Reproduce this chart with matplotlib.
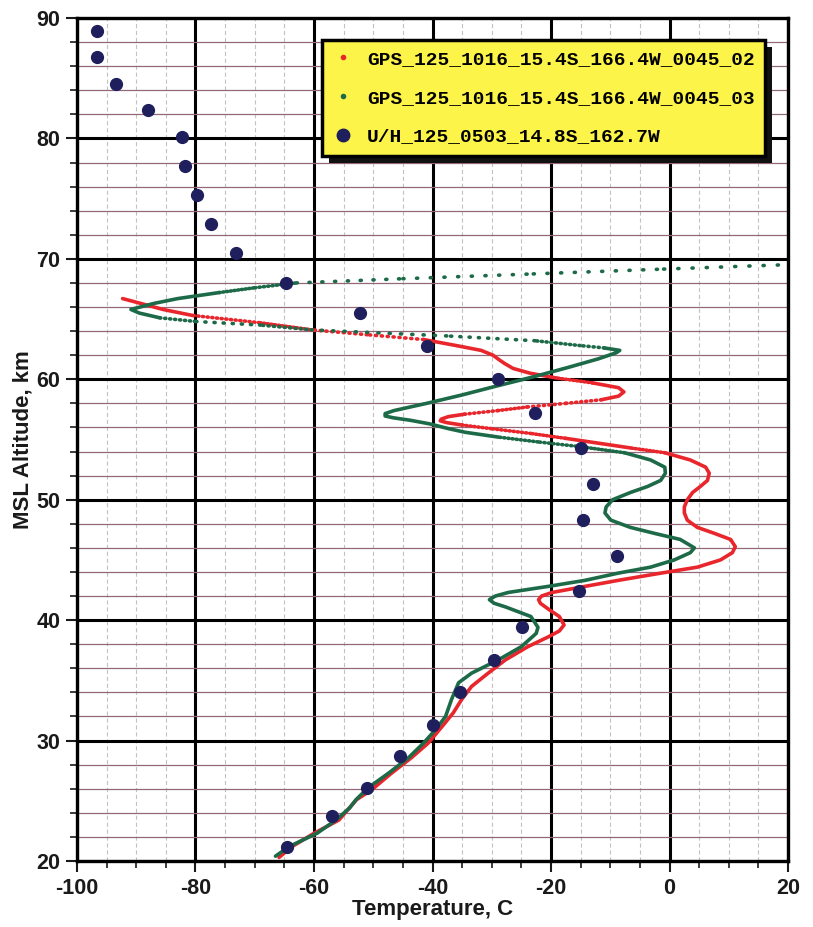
import matplotlib
matplotlib.use('Agg')
import matplotlib.pyplot as plt
from matplotlib.lines import Line2D
from matplotlib.patches import Rectangle
from matplotlib.transforms import IdentityTransform

# U/H radiosonde points
uh_temp = [-96.6, -96.6, -93.4, -88.1, -82.2, -81.8, -79.8, -77.3, -73.1, -64.7,
           -52.3, -41.0, -28.9, -22.7, -14.9, -12.9, -14.6, -8.9, -15.3, -24.9,
           -29.6, -35.3, -40.0, -45.5, -51.1, -56.9, -64.5]
uh_alt = [88.9, 86.8, 84.5, 82.4, 80.1, 77.7, 75.3, 72.9, 70.5, 68.0,
          65.5, 62.8, 60.0, 57.2, 54.3, 51.3, 48.3, 45.3, 42.4, 39.4,
          36.7, 34.0, 31.3, 28.7, 26.1, 23.7, 21.2]

# GPS profile 0045_02
gps02_alt = [20.3, 21.2, 22.3, 23.4, 25.1, 25.9, 27.3, 28.6, 29.8, 31.1,
             32.3, 33.4, 34.5, 35.6, 36.7, 37.8, 38.6, 39.1, 39.6, 40.3,
             40.9, 41.4, 41.7, 42.0, 42.3, 42.8, 43.3, 43.9, 44.4, 45.0,
             45.6, 46.1, 46.7, 47.2, 47.7, 48.3, 48.9, 49.4, 50.0, 50.6,
             51.1, 51.6, 52.2, 52.7, 53.3, 53.9, 54.3, 54.7, 55.1, 55.5,
             55.9, 56.2, 56.4, 56.55, 56.7, 56.9, 57.1, 57.4, 57.7, 58.0,
             58.3, 58.6, 58.95, 59.3, 59.7, 60.1, 60.5, 60.9, 61.3, 61.6,
             62.0, 62.4, 62.8, 63.3, 63.7, 64.1, 64.7, 65.3, 65.8, 66.2,
             66.7]
gps02_temp = [-65.9, -63.7, -60.0, -55.8, -52.8, -50.3, -46.9, -43.5, -40.7, -38.5,
              -36.5, -35.1, -33.4, -30.6, -27.7, -23.9, -20.5, -18.6, -17.8, -18.6,
              -20.4, -21.8, -22.1, -21.6, -19.8, -14.3, -8.7, -1.5, 4.7, 8.6,
              10.6, 11.1, 10.3, 7.6, 4.7, 3.0, 2.5, 2.5, 3.0, 3.9,
              5.2, 6.4, 6.7, 6.1, 3.5, -0.8, -6.6, -12.1, -17.6, -23.4,
              -30.1, -35.0, -37.6, -38.7, -38.5, -37.3, -34.6, -29.0, -24.0, -17.5,
              -11.5, -8.6, -7.7, -8.6, -13.0, -19.0, -23.5, -26.4, -27.8, -28.7,
              -29.8, -31.8, -36.0, -41.5, -51.0, -60.3, -69.2, -80.5, -85.5, -88.5,
              -92.3]

# GPS profile 0045_03
gps03_alt = [20.4, 21.2, 22.3, 23.4, 24.4, 25.1, 26.1, 27.3, 28.6, 29.8,
             30.9, 32.0, 33.4, 34.8, 35.6, 36.7, 37.8, 38.9, 39.4, 40.3,
             41.1, 41.4, 41.7, 42.0, 42.3, 42.8, 43.3, 43.9, 44.4, 45.0,
             45.6, 46.0, 46.7, 47.2, 47.7, 48.3, 48.9, 49.4, 50.0, 50.6,
             51.1, 51.6, 52.2, 52.7, 53.3, 53.9, 54.4, 54.8, 55.2, 55.6,
             55.9, 56.3, 56.6, 56.8, 56.95, 57.15, 57.4, 58.0, 58.7, 59.4,
             60.2, 61.0, 61.7, 62.2, 62.4, 62.6, 62.8, 63.2, 63.6, 64.1,
             64.5, 64.8, 65.1, 65.5, 65.8, 66.3, 66.7, 67.2, 67.6, 68.0,
             68.35, 68.75, 69.15, 69.5]
gps03_temp = [-66.5, -64.2, -59.5, -56.3, -54.0, -52.9, -50.8, -47.4, -44.0, -41.5,
              -39.5, -37.8, -36.8, -35.6, -33.4, -28.9, -25.0, -22.5, -22.2, -23.4,
              -27.7, -29.6, -30.4, -29.4, -27.2, -20.5, -14.3, -8.7, -3.2, 0.8,
              3.5, 4.2, 1.8, -2.5, -6.6, -9.9, -10.9, -10.7, -9.6, -6.6,
              -3.7, -1.5, -0.7, -0.8, -3.2, -7.6, -15.0, -22.2, -28.9, -34.5,
              -37.3, -40.5, -43.8, -46.6, -48.0, -48.0, -46.5, -41.0, -35.0, -29.5,
              -23.0, -17.0, -12.0, -9.0, -8.4, -11.0, -15.1, -22.7, -37.6, -60.3,
              -69.0, -80.0, -86.0, -89.5, -90.9, -87.0, -83.0, -76.0, -70.0, -63.0,
              -45.0, -23.0, -1.0, 19.0]

legend_labels = ['GPS_125_1016_15.4S_166.4W_0045_02',
                 'GPS_125_1016_15.4S_166.4W_0045_03',
                 'U/H_125_0503_14.8S_162.7W']

RED = '#e8262c'
GREEN = '#1d6a48'
NAVY = '#1e1f5c'
INK = '#1a1a1a'

plt.rcParams['lines.scale_dashes'] = False
plt.rcParams['axes.unicode_minus'] = False
plt.rcParams['font.family'] = ['Liberation Sans', 'DejaVu Sans']
plt.rcParams['font.weight'] = 'bold'

fig = plt.figure(figsize=(8.13, 9.27), dpi=100)
ax = fig.add_axes([0.0947, 0.0712, 0.8746, 0.9094])
ax.set_xlim(-100, 20)
ax.set_ylim(20, 90)

# steep parts of the profiles (deg per km) break up into separate dots
SOLID_SLOPE = 14.5
DOT_STEP_KM = 0.042
px_per_deg = 0.8746 * 813 / 120.0
DOT_PT = 0.8


def draw_profile(ax, temp, alt, color, lw=2.6):
    run_t, run_a = [temp[0]], [alt[0]]
    for i in range(1, len(alt)):
        slope = abs(temp[i] - temp[i - 1]) / (alt[i] - alt[i - 1])
        if slope < SOLID_SLOPE:
            run_t.append(temp[i])
            run_a.append(alt[i])
            continue
        if len(run_t) > 1:
            ax.plot(run_t, run_a, color=color, lw=lw,
                    solid_capstyle='round', solid_joinstyle='round', zorder=3)
        step_pt = slope * DOT_STEP_KM * px_per_deg * 72.0 / fig.dpi
        ax.plot([temp[i - 1], temp[i]], [alt[i - 1], alt[i]], color=color, lw=lw,
                ls=(0, (DOT_PT, max(step_pt - DOT_PT, 0.6))),
                dash_capstyle='round', zorder=3)
        run_t, run_a = [temp[i]], [alt[i]]
    if len(run_t) > 1:
        ax.plot(run_t, run_a, color=color, lw=lw,
                solid_capstyle='round', solid_joinstyle='round', zorder=3)


draw_profile(ax, gps02_temp, gps02_alt, RED)
draw_profile(ax, gps03_temp, gps03_alt, GREEN)
ax.plot(uh_temp, uh_alt, ls='none', marker='o', ms=8.5, color=NAVY, zorder=4)

# grid
ax.set_xticks(range(-100, 21, 20))
ax.set_xticks(range(-100, 21, 5), minor=True)
ax.set_yticks(range(20, 91, 10))
ax.set_yticks(range(20, 91, 2), minor=True)
ax.grid(which='minor', axis='x', color='#c2c2c2', lw=0.8, ls=(0, (3, 2)))
ax.grid(which='minor', axis='y', color='#93697a', lw=0.9)
ax.grid(which='major', color='black', lw=2.2)
ax.set_axisbelow(True)
for sp in ax.spines.values():
    sp.set_linewidth(2.4)

ax.tick_params(which='major', direction='out', length=8, width=1.5,
               labelsize=15.5, pad=4, colors=INK)
ax.tick_params(which='minor', direction='out', length=5, width=1.2, colors=INK)
ax.set_xlabel('Temperature, C', fontsize=16, fontweight='bold', labelpad=0, color=INK)
ax.set_ylabel('MSL Altitude, km', fontsize=16, fontweight='bold', labelpad=2, color=INK)

handles = [
    Line2D([], [], ls='none', marker='o', ms=3, color=RED),
    Line2D([], [], ls='none', marker='o', ms=3, color=GREEN),
    Line2D([], [], ls='none', marker='o', ms=9, color=NAVY),
]
leg = ax.legend(handles, legend_labels, loc='upper right',
                bbox_to_anchor=(0.968, 0.974), borderaxespad=0,
                prop={'family': 'Liberation Mono', 'weight': 'bold', 'size': 14},
                facecolor='#fdf44a', edgecolor='black', framealpha=1,
                fancybox=False, handlelength=1.1, handletextpad=0.68,
                borderpad=0.55, labelspacing=1.08)
leg.get_frame().set_linewidth(2.5)
leg.set_zorder(6)

# solid drop shadow behind the legend box
fig.canvas.draw()
bb = leg.get_window_extent(fig.canvas.get_renderer())
shadow = Rectangle((bb.x0 + 7, bb.y0 - 7), bb.width, bb.height,
                   transform=IdentityTransform(), facecolor='#111111',
                   edgecolor='none', zorder=5.9, clip_on=False)
ax.add_artist(shadow)

fig.savefig('out.png', dpi=100)
